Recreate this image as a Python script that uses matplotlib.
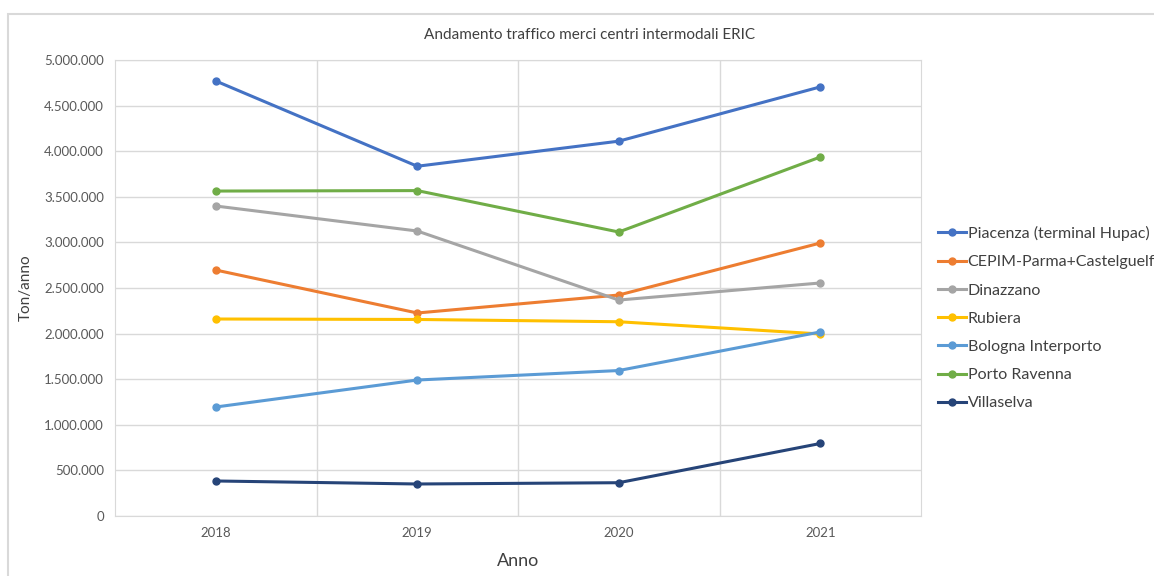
import matplotlib.pyplot as plt
from matplotlib.patches import Rectangle
from matplotlib.ticker import FuncFormatter

plt.rcParams['font.family'] = ['Lato', 'DejaVu Sans']

# Dati (ton/anno)
anni = ['2018', '2019', '2020', '2021']
piacenza = [4770000, 3835000, 4110000, 4705000]
cepim = [2697000, 2226000, 2423000, 2993000]
dinazzano = [3399000, 3125000, 2368000, 2555000]
rubiera = [2160000, 2155000, 2130000, 1996000]
bologna = [1195000, 1491000, 1595000, 2018000]
ravenna = [3563000, 3568000, 3114000, 3936000]
villaselva = [384000, 351000, 365000, 795000]

serie = [
    ('Piacenza (terminal Hupac)', piacenza, '#4472c4'),
    ('CEPIM-Parma+Castelguelfo', cepim, '#ed7d31'),
    ('Dinazzano', dinazzano, '#a5a5a5'),
    ('Rubiera', rubiera, '#ffc000'),
    ('Bologna Interporto', bologna, '#5b9bd5'),
    ('Porto Ravenna', ravenna, '#70ad47'),
    ('Villaselva', villaselva, '#264478'),
]

fig = plt.figure(figsize=(11.54, 5.76), dpi=100)
fig.patches.append(Rectangle((8 / 1154, -0.1), 1.2, 1 - 14 / 576 + 0.1,
                             transform=fig.transFigure, fill=False,
                             edgecolor='#d9d9d9', linewidth=1.5))

ax = fig.add_axes([115 / 1154, 1 - 516 / 576, 806 / 1154, 456 / 576])
x = list(range(len(anni)))
for nome, valori, colore in serie:
    ax.plot(x, valori, color=colore, linewidth=2.2, marker='o', markersize=5, label=nome)

ax.set_xlim(-0.5, 3.5)
ax.set_ylim(0, 5000000)
ax.set_xticks(x)
ax.set_xticklabels(anni)
ax.set_xticks([0.5, 1.5, 2.5], minor=True)
ax.set_yticks(range(0, 5000001, 500000))
ax.yaxis.set_major_formatter(FuncFormatter(lambda v, p: f'{int(v):,}'.replace(',', '.')))
ax.grid(axis='y', color='#d9d9d9', linewidth=1)
ax.grid(axis='x', which='minor', color='#d9d9d9', linewidth=1)
ax.set_axisbelow(True)
for s in ax.spines.values():
    s.set_color('#d9d9d9')
ax.tick_params(which='both', length=0, labelsize=9.5, colors='#595959', pad=8)

fig.text(590 / 1154, 1 - 35 / 576, 'Andamento traffico merci centri intermodali ERIC',
         fontsize=11, color='#404040', ha='center', va='center')
ax.set_ylabel('Ton/anno', fontsize=11, color='#404040', labelpad=8)
ax.set_xlabel('Anno', fontsize=13, color='#404040', labelpad=10)

ax.legend(loc='upper left', bbox_to_anchor=((938 - 115) / 806, (516 - 226) / 456),
          frameon=False, fontsize=11.5, borderpad=0, borderaxespad=0,
          labelcolor='#404040', handlelength=1.75, handletextpad=0.1, labelspacing=0.88)

fig.savefig('out.png', dpi=100)
